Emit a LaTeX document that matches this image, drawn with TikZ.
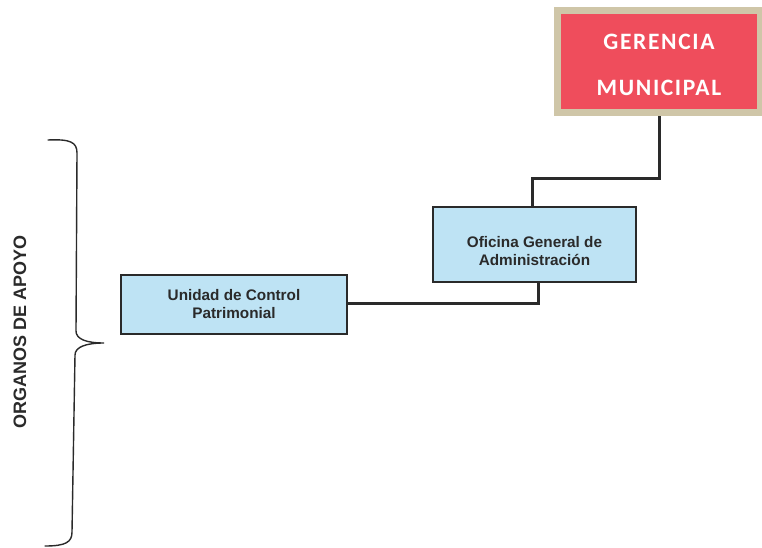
\documentclass[tikz,border=0pt]{standalone}
\usepackage{fontspec}
\setmainfont{Liberation Sans}
\newfontfamily\gerfont[LetterSpace=7]{Carlito}
\usetikzlibrary{backgrounds}
\definecolor{gerred}{HTML}{EF4D5C}
\definecolor{gerframe}{HTML}{CFC6A8}
\definecolor{unitblue}{HTML}{BEE3F4}
\definecolor{inkgray}{HTML}{2A2A2A}
% two centred lines, given zero size and lifted by #1
\newcommand{\twolines}[4]{\raisebox{#1}[0pt][0pt]{\begin{tabular}{@{}c@{}}#3\\[#2]#4\end{tabular}}}
\tikzset{
  unitbox/.style={draw=inkgray, line width=1.2pt, fill=unitblue, align=center,
    font=\fontsize{15.3}{18}\selectfont\bfseries, text=inkgray, inner sep=0pt},
  headbox/.style={draw=gerframe, line width=7pt, fill=gerred, align=center,
    font=\gerfont\fontsize{23.5}{24}\selectfont\bfseries, text=white, inner sep=0pt},
  conn/.style={draw=inkgray, line width=3pt},
  bracket/.style={draw=inkgray, line width=1.4pt, line cap=round}
}
\begin{document}
\begin{tikzpicture}[x=1pt,y=-1pt]
\useasboundingbox (0,0) rectangle (762,548);
% organisation boxes
\node[headbox, minimum width=203pt, minimum height=102pt] (ger) at (659,61.5)
  {\twolines{-12.4pt}{22pt}{GERENCIA}{MUNICIPAL}};
\node[unitbox, minimum width=203pt, minimum height=75pt] (ofi) at (534.5,244.5)
  {\twolines{-11.8pt}{0pt}{Oficina General de}{Administración}};
\node[unitbox, minimum width=226pt, minimum height=59pt] (ucp) at (234,304.5)
  {\twolines{-4.8pt}{0pt}{Unidad de Control}{Patrimonial}};
% reporting lines
\coordinate (j1) at (532,178);
\coordinate (j2) at (538,303);
\begin{scope}[on background layer]
  \draw[conn] (ger.south) -- (ger.south |- j1) -- (j1) -- (j1 |- ofi.north);
  \draw[conn] (ofi.south -| j2) -- (j2) -- (j2 -| ucp.east);
\end{scope}
% group bracket and its label
\draw[bracket] (48,140) .. controls (70,139) and (77,142) .. (77,153)
  -- (76,331) .. controls (76,339) and (86,343) .. (104,343)
  .. controls (86,343) and (75,347) .. (75,355)
  -- (72,532) .. controls (72,542) and (66,546) .. (45,546);
\node[rotate=90, font=\fontsize{18}{20}\selectfont\bfseries, text=inkgray] (lbl) at (20,332)
  {ORGANOS DE APOYO};
\end{tikzpicture}
\end{document}
